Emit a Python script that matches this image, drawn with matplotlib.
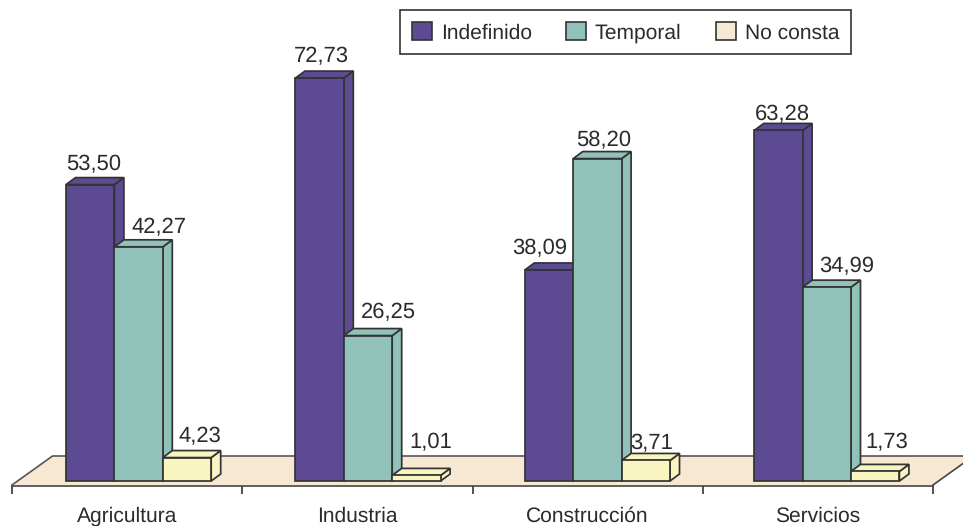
import matplotlib
matplotlib.use("Agg")
import matplotlib.pyplot as plt
from matplotlib.patches import Polygon, Patch

categories = ["Agricultura", "Industria", "Construcción", "Servicios"]
indefinido = [53.50, 72.73, 38.09, 63.28]
temporal = [42.27, 26.25, 58.20, 34.99]
no_consta = [4.23, 1.01, 3.71, 1.73]

plt.rcParams['font.family'] = ['Liberation Sans', 'DejaVu Sans']
plt.rcParams['text.hinting'] = 'none'
plt.rcParams['text.hinting_factor'] = 1
W, H = 963, 526
fig = plt.figure(figsize=(W / 100, H / 100), dpi=100)
ax = fig.add_axes([0, 0, 1, 1])

PX_X = 230.25
PX_Y = 5.54
X0 = 12
Y0 = 481
ax.set_xlim(-X0 / PX_X, (W - X0) / PX_X)
ax.set_ylim(-(H - Y0) / PX_Y, Y0 / PX_Y)
ax.patch.set_alpha(0)
for s in ('top', 'left', 'right'):
    ax.spines[s].set_visible(False)

INK = '#333333'
FLOOR = '#F7E8D3'
series = [
    ("Indefinido", indefinido, '#5C4B92'),
    ("Temporal", temporal, '#90C2BA'),
    ("No consta", no_consta, '#F9F5C0'),
]
bar_w = 48.4 / PX_X
dx = 9.5 / PX_X
dy = 7 / PX_Y
shift = 54 / PX_X
pitch = 229.4 / PX_X
lw = 1.25

# floor
floor_front = -4 / PX_Y
floor_back = 25 / PX_Y
floor_dx = 40.5 / PX_X
ax.add_patch(Polygon([(0, floor_front), (4, floor_front),
                      (4 + floor_dx, floor_back), (floor_dx, floor_back)],
                     closed=True, facecolor=FLOOR, edgecolor='none', zorder=1))
ax.plot([0, floor_dx, 4 + floor_dx], [floor_front, floor_back, floor_back],
        color='#555555', lw=1.2, zorder=1.5)
ax.plot([4, 4 + floor_dx], [floor_front, floor_back], color='#444444', lw=1.2, zorder=1.5)

# label offsets in pixels from the front-top centre of each bar
label_off = [
    [(3, 20), (20, 19), (13, 21)],
    [(2, 22), (20, 23), (14, 33)],
    [(-9, 21), (6, 18), (6, 17)],
    [(4, 16), (20, 21), (12, 29)],
]

for g in range(4):
    for s, (name, vals, col) in enumerate(series):
        left = g * pitch + shift + s * bar_w
        v = vals[g]
        z = 2 + s + g * 4
        ax.add_patch(Polygon([(left + bar_w, 0), (left + bar_w + dx, dy),
                              (left + bar_w + dx, v + dy), (left + bar_w, v)],
                             closed=True, facecolor=col, edgecolor=INK, lw=lw, zorder=z))
        ax.add_patch(Polygon([(left, v), (left + dx, v + dy),
                              (left + bar_w + dx, v + dy), (left + bar_w, v)],
                             closed=True, facecolor=col, edgecolor=INK, lw=lw, zorder=z))
        ax.bar(left, v, width=bar_w, align='edge', color=col, edgecolor=INK,
               linewidth=lw, zorder=z + 0.1)
        ox, oy = label_off[g][s]
        ax.annotate(f"{v:.2f}".replace('.', ','), (left + bar_w / 2, v),
                    xytext=(ox, oy), textcoords='offset pixels', ha='center',
                    va='center', fontsize=15.5, color='#2b2b2b', zorder=40)

# axis
ax.spines['bottom'].set_position(('data', -5 / PX_Y))
ax.spines['bottom'].set_bounds(0, 4)
ax.spines['bottom'].set_color('#444444')
ax.spines['bottom'].set_linewidth(1.2)
ax.set_yticks([])
ax.set_xticks(range(5))
ax.set_xticklabels([])
ax.tick_params(axis='x', which='major', length=6, width=1.2, color='#333333')
ax.set_xticks([i + 0.5 for i in range(4)], minor=True)
ax.set_xticklabels(categories, minor=True, fontsize=15.45, color='#2b2b2b')
ax.tick_params(axis='x', which='minor', length=0, pad=15)

handles = [Patch(facecolor=series[0][2], edgecolor=INK, lw=1.2, label="Indefinido"),
           Patch(facecolor=series[1][2], edgecolor=INK, lw=1.2, label="Temporal"),
           Patch(facecolor=FLOOR, edgecolor=INK, lw=1.2, label="No consta")]
leg = ax.legend(handles=handles, ncol=3, loc='upper left',
                bbox_to_anchor=(400 / W, 1 - 10 / H), fontsize=15.4, frameon=True,
                fancybox=False, edgecolor='#333333', framealpha=1,
                handlelength=0.95, handleheight=0.95, handletextpad=0.4,
                columnspacing=1.6, borderpad=0.55, borderaxespad=0)
leg.get_frame().set_linewidth(1.2)
leg.set_zorder(50)
for t in leg.get_texts():
    t.set_color('#2b2b2b')

fig.savefig("out.png", dpi=100)
